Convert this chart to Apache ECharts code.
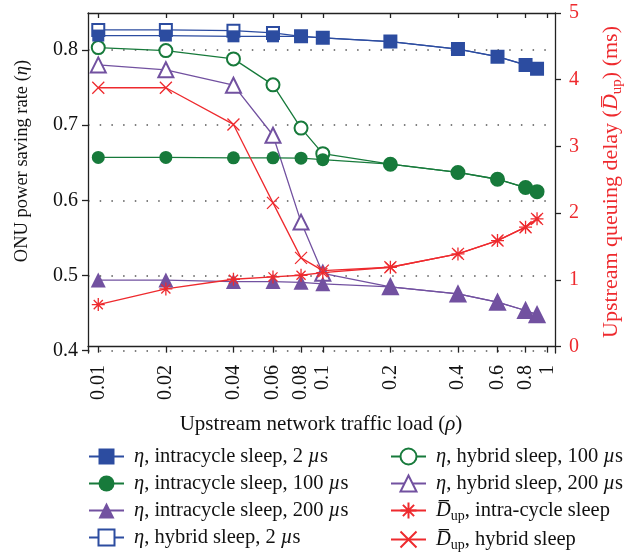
<!DOCTYPE html>
<html><head><meta charset="utf-8">
<script src="https://cdn.jsdelivr.net/npm/echarts@6/dist/echarts.min.js"></script>
<style>html,body{margin:0;padding:0;background:#fff}#c{width:626px;height:552px}</style>
</head><body><div id="c"></div>
<script>
// ---- data ----
const loads = [0.01, 0.02, 0.04, 0.06, 0.08, 0.1, 0.2, 0.4, 0.6, 0.8, 0.9];
const etaIntra2   = [0.819, 0.819, 0.818, 0.818, 0.818, 0.816, 0.811, 0.801, 0.791, 0.780, 0.775];
const etaIntra100 = [0.657, 0.657, 0.6565, 0.6565, 0.656, 0.654, 0.648, 0.637, 0.628, 0.617, 0.6115];
const etaIntra200 = [0.494, 0.494, 0.492, 0.492, 0.491, 0.489, 0.485, 0.4755, 0.4645, 0.4535, 0.448];
const etaHybrid2   = [0.8265, 0.8265, 0.8255, 0.8225, 0.818, 0.816, 0.811, 0.801, 0.791, 0.780, 0.775];
const etaHybrid100 = [0.803, 0.799, 0.788, 0.7535, 0.696, 0.662, 0.648, 0.637, 0.628, 0.617, 0.6115];
const etaHybrid200 = [0.780, 0.7735, 0.753, 0.6865, 0.571, 0.503, 0.485, 0.4755, 0.4645, 0.4535, 0.448];
const delayIntra  = [0.63, 0.865, 1.01, 1.045, 1.07, 1.11, 1.19, 1.39, 1.59, 1.79, 1.915];
const delayHybrid = [3.88, 3.88, 3.33, 2.155, 1.33, 1.14, 1.19, 1.39, 1.59, 1.79, 1.915];

const xTicks = [0.01, 0.02, 0.04, 0.06, 0.08, 0.1, 0.2, 0.4, 0.6, 0.8, 1];
const xTickLabels = ['0.01', '0.02', '0.04', '0.06', '0.08', '0.1', '0.2', '0.4', '0.6', '0.8', '1'];
const yLeftTicks = [0.4, 0.5, 0.6, 0.7, 0.8];
const yLeftTickLabels = ['0.4', '0.5', '0.6', '0.7', '0.8'];
const yRightTicks = [0, 1, 2, 3, 4, 5];

const names = {
  i2: 'η, intracycle sleep, 2 µs',
  i100: 'η, intracycle sleep, 100 µs',
  i200: 'η, intracycle sleep, 200 µs',
  h2: 'η, hybrid sleep, 2 µs',
  h100: 'η, hybrid sleep, 100 µs',
  h200: 'η, hybrid sleep, 200 µs',
  di: 'Dup, intra-cycle sleep',
  dh: 'Dup, hybrid sleep'
};

// ---- styling ----
const FONT = 'Liberation Serif';
const BLUE = '#2c4ca0', GREEN = '#177a3b', PURPLE = '#7251a0', RED = '#ee2a2e';
const ASTER = 'path://M0,5L10,5M5,0L5,10M1.5,1.5L8.5,8.5M8.5,1.5L1.5,8.5';
const CROSS = 'path://M0,0L10,10M10,0L0,10';

function pairs(ys) { return loads.map((x, i) => [x, ys[i]]); }
function nearestLabel(v, ticks, labels) {
  let best = 0;
  for (let i = 1; i < ticks.length; i++) if (Math.abs(ticks[i] - v) < Math.abs(ticks[best] - v)) best = i;
  return labels[best];
}

function mk(name, ys, color, symbol, size, yIdx, filled) {
  return {
    name: name, type: 'line', xAxisIndex: 0, yAxisIndex: yIdx,
    data: pairs(ys), symbol: symbol, symbolSize: size,
    lineStyle: { color: color, width: 1.3 },
    itemStyle: filled ? { color: color, borderWidth: 0 } : { color: color, borderColor: color, borderWidth: 1.3 },
    emphasis: { disabled: true }, animation: false
  };
}

const series = [
  mk(names.h200, etaHybrid200, PURPLE, 'emptyTriangle', 15, 0, false),
  mk(names.i200, etaIntra200, PURPLE, 'triangle', 15, 0, true),
  mk(names.h100, etaHybrid100, GREEN, 'emptyCircle', 13, 0, false),
  mk(names.i100, etaIntra100, GREEN, 'circle', 13, 0, true),
  mk(names.h2, etaHybrid2, BLUE, 'emptyRect', 12, 0, false),
  mk(names.i2, etaIntra2, BLUE, 'rect', 12, 0, true),
  mk(names.dh, delayHybrid, RED, CROSS, 12, 1, false),
  mk(names.di, delayIntra, RED, ASTER, 13, 1, false)
];

function richName(n) {
  return n.replace('Dup', '{i|D\u0305}{sub|up}').replace('η', '{i|η}').replace('µ', '{i|µ}');
}
const LFS = 20.5;
const legendText = {
  fontFamily: FONT, fontSize: LFS, color: '#111', lineHeight: 20, padding: [0, 0, 0, 5],
  rich: {
    i: { fontFamily: FONT, fontStyle: 'italic', fontSize: LFS, color: '#111' },
    sub: { fontFamily: FONT, fontSize: 14, color: '#111', padding: [11, 0, 0, 0] }
  }
};
function legend(left, data) {
  return {
    orient: 'vertical', left: left, top: 446, height: 110, padding: 0,
    itemWidth: 35, itemHeight: 20, itemGap: 6,
    data: data, formatter: richName, textStyle: legendText, selectedMode: false
  };
}

const axisLineStyle = { color: '#222', width: 1.3 };
const xCommon = {
  type: 'log', logBase: 10, min: 0.009, max: 1.082,
  axisLine: { show: true, lineStyle: axisLineStyle },
  splitLine: { show: false }, minorTick: { show: false }
};

const option = {
  backgroundColor: '#fff',
  animation: false,
  grid: { left: 88, right: 71, top: 13, bottom: 199, containLabel: false },
  xAxis: [
    Object.assign({}, xCommon, {
      position: 'bottom',
      axisTick: { show: true, inside: false, length: 6, lineStyle: axisLineStyle, customValues: xTicks },
      axisLabel: {
        show: true, rotate: 90, margin: 12, customValues: xTicks,
        fontFamily: FONT, fontSize: 20, color: '#111',
        formatter: v => nearestLabel(v, xTicks, xTickLabels)
      }
    }),
    Object.assign({}, xCommon, {
      position: 'top',
      axisTick: { show: true, inside: true, length: 5, lineStyle: axisLineStyle, customValues: xTicks },
      axisLabel: { show: false }
    })
  ],
  yAxis: [
    {
      type: 'value', position: 'left', min: 0.397, max: 0.849,
      axisLine: { show: true, lineStyle: axisLineStyle },
      axisTick: { show: true, inside: false, length: 6, lineStyle: axisLineStyle, customValues: yLeftTicks },
      axisLabel: {
        customValues: yLeftTicks, margin: 10, fontFamily: FONT, fontSize: 20, color: '#111',
        formatter: v => nearestLabel(v, yLeftTicks, yLeftTickLabels)
      },
      splitLine: { show: true, lineStyle: { color: '#555', width: 1.5, type: [1.5, 10.2] } }
    },
    {
      type: 'value', position: 'right', min: -0.095, max: 5.0,
      axisLine: { show: true, lineStyle: axisLineStyle },
      axisTick: { show: true, inside: false, length: 6, lineStyle: axisLineStyle, customValues: yRightTicks },
      axisLabel: {
        customValues: yRightTicks, margin: 14, fontFamily: FONT, fontSize: 20, color: RED,
        formatter: v => String(Math.round(v))
      },
      splitLine: { show: false }
    }
  ],
  legend: [
    legend(88, [names.i2, names.i100, names.i200, names.h2]),
    legend(390, [names.h100, names.h200, names.di, names.dh])
  ],
  graphic: [
    {
      type: 'text', x: 22, y: 161, rotation: Math.PI / 2,
      style: {
        text: 'ONU power saving rate ({i|η})', fontFamily: FONT, fontSize: 18.5, fill: '#111',
        align: 'center', verticalAlign: 'middle',
        rich: { i: { fontFamily: FONT, fontStyle: 'italic', fontSize: 18.5, fill: '#111' } }
      }
    },
    {
      type: 'text', x: 611, y: 182, rotation: Math.PI / 2,
      style: {
        text: 'Upstream queuing delay ({i|D\u0305}{sub|up}) (ms)', fontFamily: FONT, fontSize: 22, fill: RED,
        align: 'center', verticalAlign: 'middle',
        rich: {
          i: { fontFamily: FONT, fontStyle: 'italic', fontSize: 22, fill: RED },
          sub: { fontFamily: FONT, fontSize: 15, fill: RED, padding: [12, 0, 0, 0] }
        }
      }
    },
    {
      type: 'text', x: 321, y: 424,
      style: {
        text: 'Upstream network traffic load ({i|ρ})', fontFamily: FONT, fontSize: 21, fill: '#111',
        align: 'center', verticalAlign: 'middle',
        rich: { i: { fontFamily: FONT, fontStyle: 'italic', fontSize: 21, fill: '#111' } }
      }
    }
  ],
  series: series
};

const chart = echarts.init(document.getElementById('c'), null, { renderer: 'canvas' });
chart.setOption(option);
</script>
</body></html>
